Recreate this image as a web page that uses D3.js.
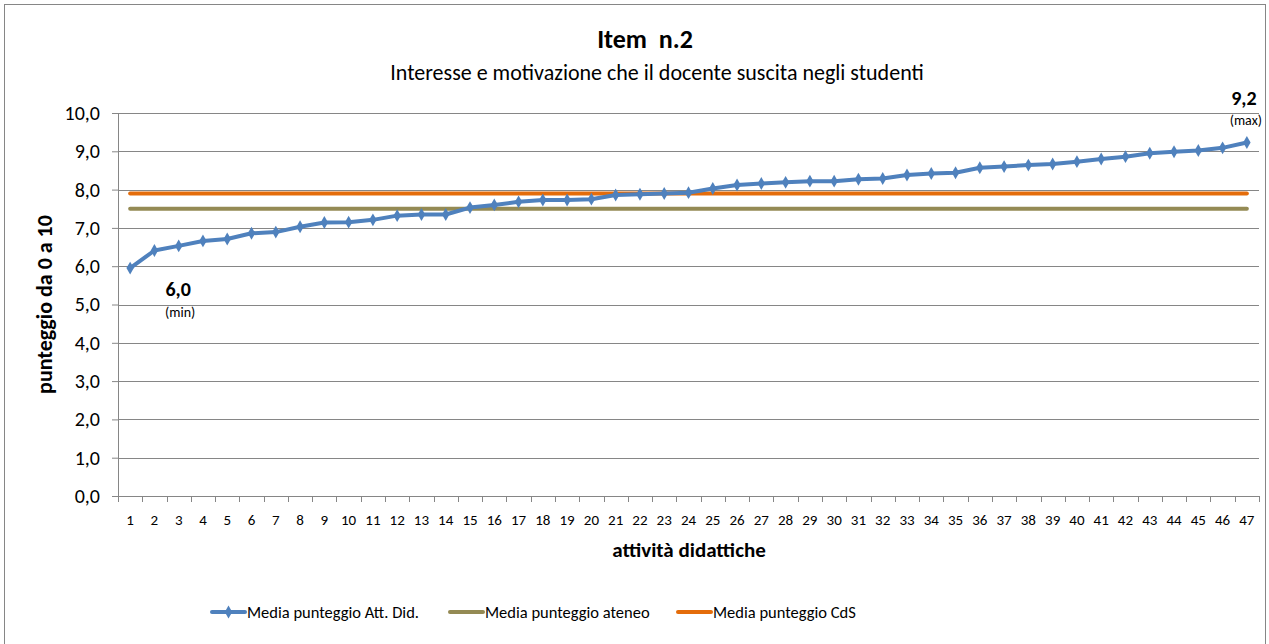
<!DOCTYPE html>
<html>
<head>
<meta charset="utf-8">
<script src="https://cdn.jsdelivr.net/npm/d3@7"></script>
<style>
  body { margin: 0; background: #fff; }
  svg text { font-family: Carlito, Lato, "Liberation Sans", sans-serif; fill: #000; }
</style>
</head>
<body>
<div id="chart"></div>
<script>
// Categories (attività didattiche 1..47)
const categories = ["1","2","3","4","5","6","7","8","9","10","11","12","13","14","15","16","17","18","19","20","21","22","23","24","25","26","27","28","29","30","31","32","33","34","35","36","37","38","39","40","41","42","43","44","45","46","47"];

// Media punteggio Att. Did.
const mediaAttDid = [5.95, 6.41, 6.53, 6.66, 6.71, 6.86, 6.89, 7.03, 7.14, 7.15, 7.21, 7.32, 7.35, 7.35, 7.53, 7.60, 7.68, 7.73, 7.73, 7.75, 7.86, 7.88, 7.90, 7.92, 8.03, 8.12, 8.16, 8.19, 8.22, 8.22, 8.27, 8.29, 8.38, 8.42, 8.44, 8.57, 8.60, 8.64, 8.67, 8.73, 8.80, 8.86, 8.95, 8.99, 9.02, 9.09, 9.23];

// Media punteggio ateneo / CdS (constant)
const mediaAteneo = categories.map(() => 7.5);
const mediaCdS = categories.map(() => 7.9);

const yTicks = [0,1,2,3,4,5,6,7,8,9,10];

const W = 1269, H = 644;
const margin = {top: 113, left: 118, right: 10, bottom: 148};
const plotW = 1259 - margin.left;
const plotH = 496 - margin.top;

const fmt = v => d3.format(".1f")(v).replace(".", ",");

const svg = d3.select("#chart").append("svg")
    .attr("width", W)
    .attr("height", H);

// outer chart border
svg.append("rect")
    .attr("x", 4.5).attr("y", 4.5)
    .attr("width", 1261).attr("height", 650)
    .attr("fill", "#fff")
    .attr("stroke", "#868686")
    .attr("stroke-width", 1);

const g = svg.append("g").attr("transform", "translate(" + margin.left + "," + margin.top + ")");

const x = d3.scaleBand().domain(categories).range([0, plotW]);
const xc = c => x(c) + x.bandwidth() / 2;
const y = d3.scaleLinear().domain([0, 10]).range([plotH, 0]);

// gridlines
g.append("g")
    .selectAll("line")
    .data(yTicks)
    .join("line")
    .attr("x1", 0).attr("x2", plotW)
    .attr("y1", d => Math.round(y(d)) + 0.5).attr("y2", d => Math.round(y(d)) + 0.5)
    .attr("stroke", "#868686").attr("stroke-width", 1);

// y axis
const yAxis = g.append("g")
    .call(d3.axisLeft(y).tickValues(yTicks).tickFormat(fmt).tickSize(6).tickPadding(12));
yAxis.select(".domain").attr("stroke", "#868686").attr("d", "M0.5,0V" + plotH);
yAxis.selectAll(".tick line").attr("stroke", "#868686");
yAxis.selectAll("text").style("font-size", "20px").attr("fill", "#000");

// x axis with ticks between categories
const xAxis = g.append("g").attr("transform", "translate(0," + plotH + ")");
xAxis.append("line")
    .attr("x1", 0).attr("x2", plotW).attr("y1", 0.5).attr("y2", 0.5)
    .attr("stroke", "#868686");
xAxis.selectAll(".xtick")
    .data(categories.concat(["end"]))
    .join("line")
    .attr("class", "xtick")
    .attr("x1", (d, i) => Math.round(i * x.step()) + 0.5)
    .attr("x2", (d, i) => Math.round(i * x.step()) + 0.5)
    .attr("y1", 0).attr("y2", 6)
    .attr("stroke", "#868686");
xAxis.selectAll(".xlab")
    .data(categories)
    .join("text")
    .attr("class", "xlab")
    .attr("x", d => xc(d))
    .attr("y", 29)
    .attr("text-anchor", "middle")
    .style("font-size", "15px")
    .text(d => d);

// axis titles
svg.append("text")
    .attr("x", 689).attr("y", 557)
    .attr("text-anchor", "middle")
    .style("font-size", "21px").style("font-weight", "bold")
    .text("attività didattiche");

svg.append("text")
    .attr("transform", "translate(52," + (margin.top + plotH / 2) + ") rotate(-90)")
    .attr("text-anchor", "middle")
    .style("font-size", "22px").style("font-weight", "bold")
    .text("punteggio da 0 a 10");

// titles
svg.append("text")
    .attr("x", 645).attr("y", 48)
    .attr("text-anchor", "middle")
    .style("font-size", "26px").style("font-weight", "bold")
    .attr("xml:space", "preserve")
    .text("Item  n.2");
svg.append("text")
    .attr("x", 657).attr("y", 80)
    .attr("text-anchor", "middle")
    .style("font-size", "22px")
    .text("Interesse e motivazione che il docente suscita negli studenti");

// lines
const line = d3.line().x((d, i) => xc(categories[i])).y(d => y(d));

const series = [
    {name: "Media punteggio Att. Did.", values: mediaAttDid, color: "#4F81BD", marker: true},
    {name: "Media punteggio ateneo", values: mediaAteneo, color: "#948A54", marker: false},
    {name: "Media punteggio CdS", values: mediaCdS, color: "#E46C0A", marker: false}
];

// draw ateneo, CdS then Att. Did. on top
[series[1], series[2], series[0]].forEach(s => {
    g.append("path")
        .datum(s.values)
        .attr("fill", "none")
        .attr("stroke", s.color)
        .attr("stroke-width", 4)
        .attr("stroke-linejoin", "round")
        .attr("stroke-linecap", "round")
        .attr("d", line);
});

const diamond = d3.symbol().type(d3.symbolDiamond).size(48);
g.append("g")
    .selectAll("path")
    .data(mediaAttDid)
    .join("path")
    .attr("transform", (d, i) => "translate(" + xc(categories[i]) + "," + y(d) + ")")
    .attr("d", diamond)
    .attr("fill", "#4F81BD");

// min / max annotations
const iMin = d3.minIndex(mediaAttDid), iMax = d3.maxIndex(mediaAttDid);
g.append("text")
    .attr("x", xc(categories[iMin]) + 48).attr("y", y(mediaAttDid[iMin]) + 28)
    .attr("text-anchor", "middle")
    .style("font-size", "20px").style("font-weight", "bold")
    .text(fmt(mediaAttDid[iMin]));
g.append("text")
    .attr("x", xc(categories[iMin]) + 50).attr("y", y(mediaAttDid[iMin]) + 49)
    .attr("text-anchor", "middle")
    .style("font-size", "14px")
    .text("(min)");
g.append("text")
    .attr("x", xc(categories[iMax]) - 3).attr("y", y(mediaAttDid[iMax]) - 38)
    .attr("text-anchor", "middle")
    .style("font-size", "20px").style("font-weight", "bold")
    .text(fmt(mediaAttDid[iMax]));
g.append("text")
    .attr("x", xc(categories[iMax]) - 1).attr("y", y(mediaAttDid[iMax]) - 18)
    .attr("text-anchor", "middle")
    .style("font-size", "14px")
    .text("(max)");

// legend
const legendX = [212, 450, 678];
const lg = svg.append("g").selectAll("g")
    .data(series)
    .join("g")
    .attr("transform", (d, i) => "translate(" + legendX[i] + ",612)");
lg.append("line")
    .attr("x1", 0).attr("x2", 33).attr("y1", 0).attr("y2", 0)
    .attr("stroke", d => d.color).attr("stroke-width", 4).attr("stroke-linecap", "round");
lg.filter(d => d.marker).append("path")
    .attr("transform", "translate(16.5,0)")
    .attr("d", diamond)
    .attr("fill", d => d.color);
lg.append("text")
    .attr("x", 35).attr("y", 6)
    .style("font-size", "16.5px")
    .text(d => d.name);
</script>
</body>
</html>
